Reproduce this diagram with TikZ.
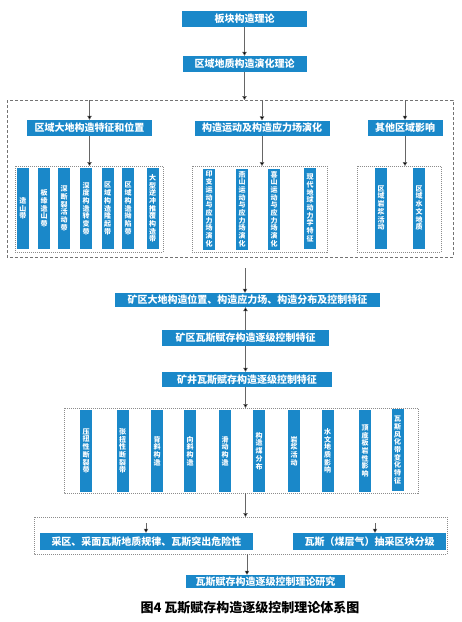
\documentclass[tikz,border=0pt]{standalone}
\usepackage{fontspec}
\setmainfont{Noto Sans CJK SC}
\usetikzlibrary{arrows.meta}
\definecolor{blu}{HTML}{1A88C9}
\tikzset{
  box/.style={fill=blu, text=white, font=\bfseries\fontsize{10}{12}\selectfont, inner sep=0pt},
  bar/.style={fill=blu, text=white, font=\bfseries\fontsize{7}{7.7}\selectfont, inner sep=0pt,
              minimum width=12pt, minimum height=81pt, align=center},
  arr/.style={draw=black!60, line width=0.5pt, -{Triangle[length=4pt,width=4.5pt,fill=black]}},
  bigdash/.style={draw=black!55, dash pattern=on 3pt off 2pt, line width=0.6pt},
  dotbox/.style={draw=black!45, dash pattern=on 1pt off 1pt, line width=0.4pt},
}
\begin{document}
\begin{tikzpicture}[x=1pt,y=-1pt]
\useasboundingbox (0,0) rectangle (462,622);
% top
\node[box, minimum width=125pt, minimum height=16pt] (t1) at (244.5,19) {板块构造理论};
\node[box, minimum width=124pt, minimum height=16pt] (t2) at (244.5,64) {区域地质构造演化理论};
% big dashed box
\draw[bigdash] (7,100) rectangle (453,257);
\coordinate (bbt) at (244.5,100);
\coordinate (b1t) at (89.5,100);
\coordinate (b2t) at (262,100);
\coordinate (b3t) at (405,100);
\draw[arr] (t1.south) -- (t2.north);
\draw[arr] (t2.south) -- (bbt);
% heads
\node[box, minimum width=125pt, minimum height=16pt] (h1) at (89.5,128) {区域大地构造特征和位置};
\node[box, minimum width=135pt, minimum height=15pt] (h2) at (262,128) {构造运动及构造应力场演化};
\node[box, minimum width=75pt, minimum height=16pt] (h3) at (405,128) {其他区域影响};
\draw[arr] (b1t) -- (h1.north);
\draw[arr] (b2t) -- (h2.north);
\draw[arr] (b3t) -- (h3.north);
% group boxes
\draw[dotbox] (15,166) rectangle (163,252);
\draw[dotbox] (192,166) rectangle (327,252);
\draw[dotbox] (357,166) rectangle (441,252);
\coordinate (g1t) at (89.5,166);
\coordinate (g2t) at (262,166);
\coordinate (g3t) at (405,166);
\draw[arr] (h1.south) -- (g1t);
\draw[arr] (h2.south) -- (g2t);
\draw[arr] (h3.south) -- (g3t);
% group 1 bars
\node[bar] (a1) at (23,208.5) {造\\山\\带};
\node[bar] (a2) at (44,208.5) {板\\缘\\造\\山\\带};
\node[bar] (a3) at (64,208.5) {深\\断\\裂\\活\\动\\带};
\node[bar] (a4) at (86,208.5) {深\\度\\构\\造\\转\\变\\带};
\node[bar] (a5) at (107.5,208.5) {区\\域\\构\\造\\隆\\起\\带};
\node[bar] (a6) at (128,208.5) {区\\域\\构\\造\\拗\\陷\\带};
\node[bar] (a7) at (152.5,208.5) {大\\型\\逆\\冲\\推\\覆\\构\\造\\带};
% group 2 bars
\node[bar] (c1) at (209,209) {印\\支\\运\\动\\与\\应\\力\\场\\演\\化};
\node[bar] (c2) at (242,209) {燕\\山\\运\\动\\与\\应\\力\\场\\演\\化};
\node[bar] (c3) at (274,209) {喜\\山\\运\\动\\与\\应\\力\\场\\演\\化};
\node[bar] (c4) at (310,208) {现\\代\\地\\球\\动\\力\\学\\特\\征};
% group 3 bars
\node[bar] (d1) at (381,208) {区\\域\\岩\\浆\\活\\动};
\node[bar] (d2) at (419,208) {区\\域\\水\\文\\地\\质};
% middle chain
\coordinate (bbb) at (245,268);
\node[box, minimum width=265pt, minimum height=14pt] (m1) at (247.5,300) {矿区大地构造位置、构造应力场、构造分布及控制特征};
\node[box, minimum width=167pt, minimum height=16pt] (m2) at (245.5,338) {矿区瓦斯赋存构造逐级控制特征};
\node[box, minimum width=170pt, minimum height=15pt] (m3) at (247,379.5) {矿井瓦斯赋存构造逐级控制特征};
\draw[arr] (bbb) -- (bbb |- m1.north);
\draw[arr] (m2.north) -- (m2.north |- m1.south);
\draw[arr] (m2.south) -- (m2.south |- m3.north);
% group 4
\draw[dotbox] (64,408) rectangle (418,493);
\coordinate (g4t) at (245.5,408);
\coordinate (g4b) at (245.5,493);
\draw[arr] (m3.south -| g4t) -- (g4t);
\node[bar, minimum height=82pt] (e1) at (86,451) {压\\扭\\性\\断\\裂\\带};
\node[bar, minimum height=82pt] (e2) at (122.5,451) {张\\扭\\性\\断\\裂\\带};
\node[bar, minimum height=82pt] (e3) at (157,451) {背\\斜\\构\\造};
\node[bar, minimum height=82pt] (e4) at (190,451) {向\\斜\\构\\造};
\node[bar, minimum height=82pt] (e5) at (225,451) {滑\\动\\构\\造};
\node[bar, minimum height=82pt] (e6) at (259,451) {构\\造\\煤\\分\\布};
\node[bar, minimum height=82pt] (e7) at (294,451) {岩\\浆\\活\\动};
\node[bar, minimum height=82pt] (e8) at (327.5,451) {水\\文\\地\\质\\影\\响};
\node[bar, minimum height=82pt] (e9) at (365,451) {顶\\底\\板\\岩\\性\\影\\响};
\node[bar, minimum height=82pt] (e10) at (397.5,450) {瓦\\斯\\风\\化\\带\\变\\化\\特\\征};
% bottom box
\draw[dotbox] (34,517) rectangle (447,554);
\coordinate (bt) at (245.5,517);
\coordinate (bb) at (247,554);
\draw[arr] (g4b) -- (bt);
\node[box, minimum width=213pt, minimum height=17pt] (f1) at (146.5,541.5) {采区、采面瓦斯地质规律、瓦斯突出危险性};
\node[box, minimum width=153pt, minimum height=17pt] (f2) at (369.5,541.5) {瓦斯（煤层气）抽采区块分级};
\coordinate (f1a) at (146,523);
\coordinate (f2a) at (375,523);
\draw[arr] (f1a) -- (f1a |- f1.north);
\draw[arr] (f2a) -- (f2a |- f2.north);
\node[box, minimum width=159pt, minimum height=13pt] (fin) at (265.5,581.5) {瓦斯赋存构造逐级控制理论研究};
\draw[arr] (bb) -- (bb |- fin.north);
% caption
\node[font=\bfseries\fontsize{13}{15}\selectfont, text=black, inner sep=0pt] (cap) at (250,608) {图4 瓦斯赋存构造逐级控制理论体系图};
\end{tikzpicture}
\end{document}
